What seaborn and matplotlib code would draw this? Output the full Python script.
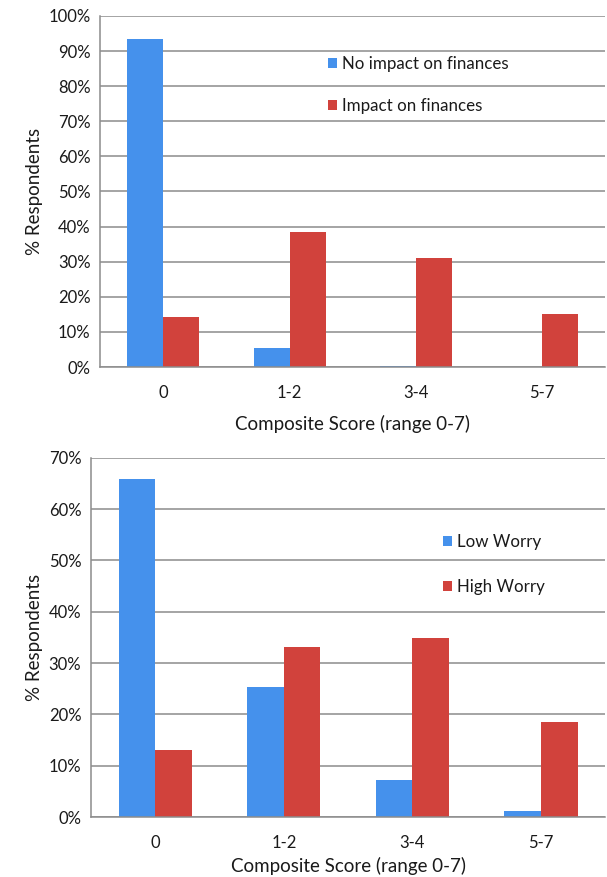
import pandas as pd
import seaborn as sns
import matplotlib.pyplot as plt
from matplotlib.ticker import PercentFormatter, FixedLocator

# categories and values (% respondents)
scores = ["0", "1-2", "3-4", "5-7"]

no_impact = [93.4, 5.3, 0.3, 0.0]
impact = [14.2, 38.4, 31.0, 15.1]

low_worry = [65.9, 25.4, 7.2, 1.1]
high_worry = [13.0, 33.1, 34.9, 18.6]

BLUE = "#4591EC"
RED = "#D1423C"
GRID = "#8c8c8c"
TXT = "#1a1a1a"

sns.set_style("white")
plt.rcParams["font.family"] = ["Lato", "DejaVu Sans"]


def make_df(a, b, name_a, name_b):
    df = pd.DataFrame({"score": scores, name_a: a, name_b: b})
    return df.melt(id_vars="score", var_name="grupo", value_name="pct")


def style_axes(ax, ymax):
    ax.set_xlim(-0.5, 3.5)
    ax.set_ylim(0, ymax)
    ax.yaxis.set_major_locator(FixedLocator(list(range(0, ymax + 1, 10))))
    ax.yaxis.set_major_formatter(PercentFormatter(decimals=0))
    ax.grid(axis="y", color=GRID, linewidth=1.1)
    ax.set_axisbelow(True)
    for s in ["top", "right"]:
        ax.spines[s].set_visible(False)
    for s in ["left", "bottom"]:
        ax.spines[s].set_color(GRID)
        ax.spines[s].set_linewidth(1.1)
    ax.xaxis.set_minor_locator(FixedLocator([0.5, 1.5, 2.5, 3.5]))
    ax.tick_params(axis="x", which="major", length=0, pad=13, labelsize=12, labelcolor=TXT)
    ax.tick_params(axis="x", which="minor", length=5, width=1.1, color=GRID, direction="out")
    ax.tick_params(axis="y", length=5, width=1.1, color=GRID, direction="out", labelsize=12, labelcolor=TXT, pad=2)
    ax.set_xlabel("Composite Score (range 0-7)", fontsize=13.5, color=TXT)
    ax.set_ylabel("% Respondents", fontsize=13.5, color=TXT, labelpad=4)


fig = plt.figure(figsize=(6.07, 8.77), dpi=100)
ax1 = fig.add_axes([0.165, 0.5815, 0.832, 0.4003])
ax2 = fig.add_axes([0.150, 0.0684, 0.847, 0.4096])

# top panel
d1 = make_df(no_impact, impact, "No impact on finances", "Impact on finances")
sns.barplot(data=d1, x="score", y="pct", hue="grupo", palette=[BLUE, RED],
            width=0.57, linewidth=0, saturation=1, ax=ax1)
style_axes(ax1, 100)
ax1.xaxis.labelpad = 10
ax1.legend(loc="upper left", bbox_to_anchor=(0.42, 0.93), frameon=False,
           handlelength=0.55, handleheight=0.55, handletextpad=0.3,
           labelspacing=1.55, fontsize=12.2, labelcolor=TXT)

# bottom panel
d2 = make_df(low_worry, high_worry, "Low Worry", "High Worry")
sns.barplot(data=d2, x="score", y="pct", hue="grupo", palette=[BLUE, RED],
            width=0.57, linewidth=0, saturation=1, ax=ax2)
style_axes(ax2, 70)
ax2.xaxis.labelpad = 4
ax2.legend(loc="upper left", bbox_to_anchor=(0.655, 0.83), frameon=False,
           handlelength=0.55, handleheight=0.55, handletextpad=0.3,
           labelspacing=1.7, fontsize=12.2, labelcolor=TXT)

plt.savefig("out.png", dpi=100)
